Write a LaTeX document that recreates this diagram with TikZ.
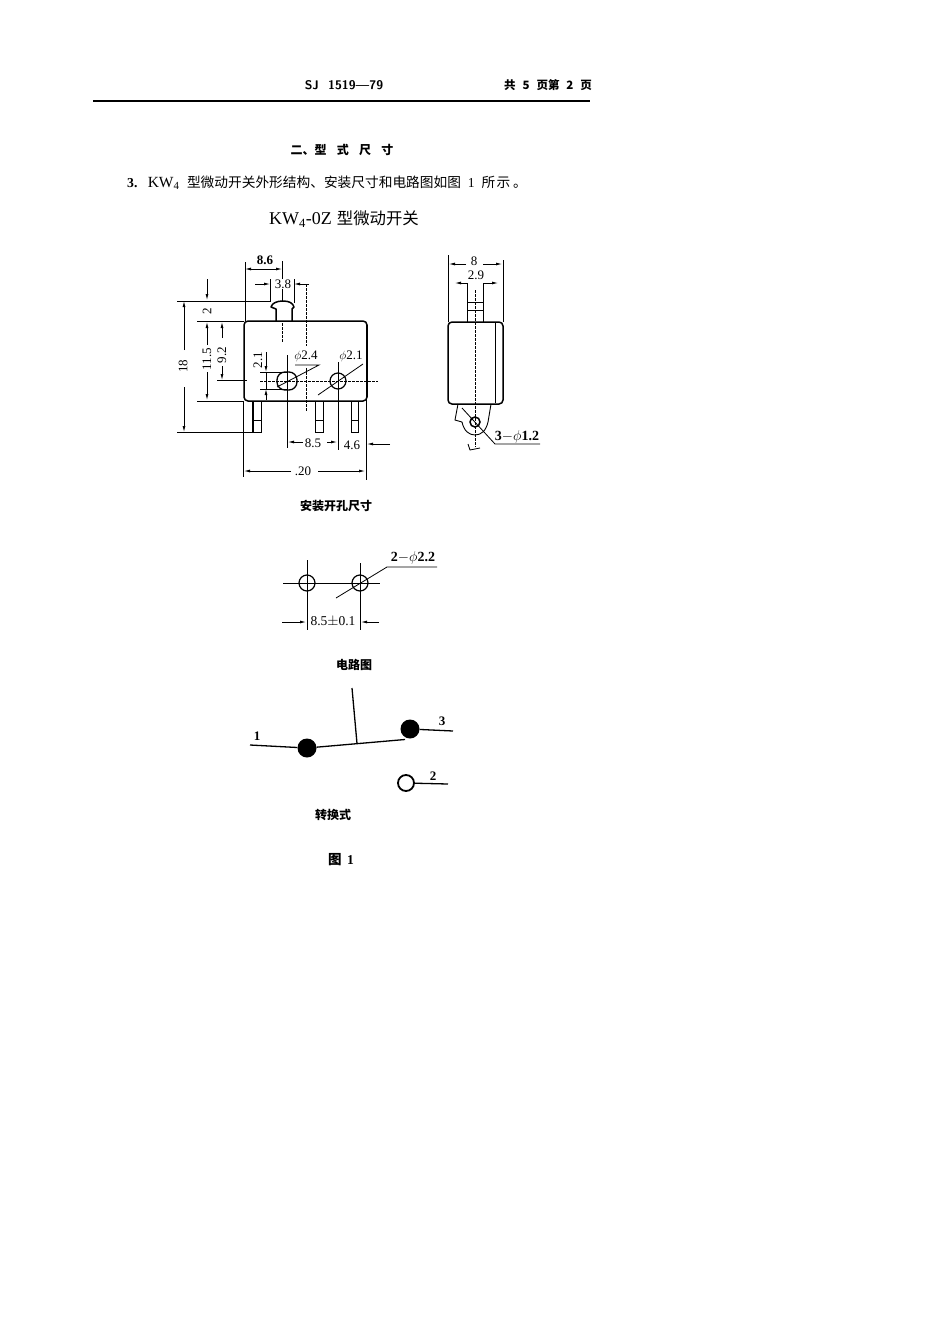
\documentclass[tikz,border=0pt]{standalone}
\usepackage{fontspec}
\setmainfont{Liberation Serif}
\newfontfamily\cjk{Noto Sans CJK SC}
\newfontfamily\latinserif{Liberation Serif}
\usetikzlibrary{arrows.meta}
\tikzset{
  x=1pt,y=-1pt,
  part/.style={draw=black,line width=1.5pt,line join=round},
  thin part/.style={draw=black,line width=0.9pt},
  dimline/.style={draw=black,line width=0.8pt},
  dimarrow/.style={draw=black,line width=0.8pt,-{Latex[length=6pt,width=3pt]}},
  dash center/.style={draw=black,line width=0.7pt,dash pattern=on 3pt off 1pt},
  dim/.style={inner sep=0.5pt,font=\fontsize{13}{14}\selectfont,fill=white},
  dimb/.style={inner sep=0.5pt,font=\fontsize{13}{14}\selectfont\bfseries},
  heading/.style={inner sep=0pt,font=\cjk\fontsize{12}{13}\selectfont\bfseries},
  wire/.style={draw=black,line width=1.3pt},
  dot/.style={circle,fill=black,inner sep=0pt,minimum size=19pt},
  opendot/.style={circle,draw=black,line width=1.8pt,fill=white,inner sep=0pt,minimum size=16pt},
  hole/.style={circle,draw=black,line width=1.2pt,inner sep=0pt,minimum size=16pt},
}
\begin{document}
\begin{tikzpicture}
\useasboundingbox[fill=white] (0,0) rectangle (950,1344);
% header
\node[inner sep=0pt,font=\sffamily\bfseries\fontsize{12.5}{13}\selectfont] (code) at (344,85) {SJ\ \ 1519—79};
\node[inner sep=0pt,font=\cjk\fontsize{11.5}{12}\selectfont\bfseries] (pageno) at (548,85) {共\hspace{0.6em}5\hspace{0.6em}页第\hspace{0.6em}2\hspace{0.6em}页};
\draw[black,line width=2.5pt] (93,101) -- (590,101);
\node[heading] (title) at (342,150) {二、型\hspace{0.85em}式\hspace{0.85em}尺\hspace{0.85em}寸};
\node[anchor=west,inner sep=0pt,font=\cjk\fontsize{13.7}{15}\selectfont] (intro) at (127,183)
  {{\latinserif\bfseries 3.}\hspace{0.75em}{\latinserif\fontsize{15.5}{16}\selectfont KW\textsubscript{4}}\hspace{0.55em}型微动开关外形结构、安装尺寸和电路图如图\hspace{0.5em}{\latinserif 1}\hspace{0.5em}所\hspace{0.1em}示\hspace{0.2em}。};
\node[inner sep=0pt,font=\cjk\fontsize{16.4}{18}\selectfont] (name) at (344,219)
  {{\latinserif\fontsize{18}{19}\selectfont KW\textsubscript{4}-0Z}\hspace{0.3em}型微动开关};

% main view: body
\draw[part,rounded corners=4pt] (244,321) rectangle (367,401);
\draw[part] (276,321) -- (276,309) -- (271,307) .. controls (272,303) and (277,301) .. (283,301) .. controls (289,301) and (293,303) .. (294,307) -- (292,309) -- (292,321);
\foreach \a/\b in {253/261,315/323,351/358}{
  \draw[thin part] (\a,401) -- (\a,432) -- (\b,432) -- (\b,401);
  \draw[thin part] (\a,420) -- (\b,420);
}
\draw[part,line width=1.2pt] (253,401) -- (253,432);
% holes
\draw[draw=black,line width=1.3pt,rounded corners=8pt] (277,372) rectangle (297,390);
\node[hole] (hole21) at (338,381) {};
% centre lines
\draw[dash center] (260,381) -- (378,381);
\draw[dimline] (287,355) -- (287,448);
\draw[dimline] (338,362) -- (338,450);
\draw[dash center] (282,323) -- (282,343);
\draw[dash center] (306,284) -- (306,346);
\draw[dash center] (306,368) -- (306,412);
% extension lines
\draw[dimline] (245,262) -- (245,321);
\draw[dimline] (282,261) -- (282,301);
\draw[dimline] (270,279) -- (270,302);
\draw[dimline] (294,279) -- (294,303);
\draw[dimline] (177,301) -- (271,301);
\draw[dimline] (177,432) -- (253,432);
\draw[dimline] (197,321) -- (244,321);
\draw[dimline] (197,401) -- (244,401);
\draw[dimline] (217,380) -- (247,380);
\draw[dimline] (260,372) -- (287,372);
\draw[dimline] (260,389) -- (287,389);
\draw[dimline] (366,323) -- (366,480);
\draw[dimline] (243,401) -- (243,477);
% dimensions
\draw[dimarrow,{Latex[length=6pt,width=3pt]}-{Latex[length=6pt,width=3pt]}] (245,269) -- (282,269);
\node[dimb] (d86) at (265,260) {8.6};
\draw[dimarrow] (255,284) -- (270,284);
\draw[dimarrow] (309,284) -- (294,284);
\node[dim] (d38) at (283,284) {3.8};
\draw[dimarrow] (184,350) -- (184,301);
\draw[dimarrow] (184,387) -- (184,432);
\node[dim,rotate=90] (d18) at (183,366) {18};
\draw[dimarrow] (207,279) -- (207,300);
\node[dim,rotate=90] (d2) at (207,311) {2};
\draw[dimarrow] (207,345) -- (207,322);
\node[dim,rotate=90] (d115) at (207,359) {11.5};
\draw[dimarrow] (207,372) -- (207,400);
\draw[dimarrow] (222,338) -- (222,322);
\node[dim,rotate=90] (d92) at (222,355) {9.2};
\draw[dimarrow] (222,366) -- (222,380);
\draw[dimarrow] (266,352) -- (266,372);
\draw[dimline] (266,372) -- (266,389);
\draw[dimarrow] (266,400) -- (266,389);
\node[dim,rotate=90] (d21) at (258,360) {2.1};
\node[inner sep=0pt,font=\fontsize{13}{14}\selectfont\itshape] (p24) at (306,356) {$\phi$\upshape 2.4};
\draw[dimline] (295,365) -- (319,365) -- (277,387);
\node[inner sep=0pt,font=\fontsize{13}{14}\selectfont\itshape] (p21) at (351,356) {$\phi$\upshape 2.1};
\draw[dimline] (363,364) -- (318,395);
\draw[dimarrow] (303,442) -- (288,442);
\draw[dimarrow] (327,442) -- (337,442);
\node[dim] (d85) at (313,443) {8.5};
\node[dim] (d46) at (352,445) {4.6};
\draw[dimarrow] (390,444) -- (367,444);
\draw[dimarrow] (291,471) -- (244,471);
\draw[dimarrow] (318,471) -- (365,471);
\node[inner sep=0pt,font=\fontsize{13}{14}\selectfont] (d20) at (303,471) {.20};

% side view
\draw[part,rounded corners=4pt] (448,322) rectangle (503,404);
\draw[thin part] (495,323) -- (495,403);
\draw[thin part] (467,302) -- (483,302);
\draw[thin part] (467,310) -- (483,310);
\draw[thin part] (467,283) -- (467,322);
\draw[thin part] (483,283) -- (483,322);
\draw[dash center] (475,290) -- (475,447);
\draw[dimline] (448,255) -- (448,322);
\draw[dimline] (503,260) -- (503,322);
\draw[dimarrow] (466,264) -- (449,264);
\draw[dimarrow] (483,264) -- (502,264);
\node[dim] (d8) at (474,261) {8};
\draw[dimarrow] (467,283) -- (455,283);
\draw[dimarrow] (483,283) -- (498,283);
\node[dim] (d29) at (476,275) {2.9};
\draw[thin part] (458,404) -- (455,420) -- (462,422) .. controls (464,431) and (469,435) .. (475,435) .. controls (481,435) and (486,431) .. (488,422) -- (491,404);
\node[hole,minimum size=10pt,line width=1.5pt] (hole12) at (475,422) {};
\draw[dimline] (462,408) -- (495,444) -- (540,444);
\node[inner sep=0pt,font=\fontsize{14}{15}\selectfont\bfseries] (d12) at (517,437) {3$-\phi$1.2};
\draw[dimline] (468,444) -- (470,450) -- (480,448);

% mounting section
\node[heading] (mount) at (336,506) {安装开孔尺寸};
\node[hole] (h1) at (307,583) {};
\node[hole] (h2) at (360,583) {};
\draw[dimline] (283,583) -- (380,583);
\draw[dimline] (307,560) -- (307,630);
\draw[dimline] (360,563) -- (360,630);
\draw[dimline] (336,598) -- (387,567) -- (437,567);
\node[inner sep=0pt,font=\fontsize{14}{15}\selectfont\bfseries] (d22) at (413,558) {2$-\phi$2.2};
\draw[dimarrow] (282,622) -- (306,622);
\draw[dimarrow] (379,622) -- (361,622);
\node[inner sep=0.5pt,font=\fontsize{13.5}{14}\selectfont] (d85b) at (333,622) {8.5$\pm$0.1};

% circuit
\node[heading] (circ) at (354,665) {电路图};
\coordinate (n1) at (250,745);
\coordinate (n3) at (453,731);
\coordinate (n2) at (448,784);
\coordinate (top) at (352,688);
\coordinate (joint) at (357,743.5);
\coordinate (leverend) at (405,739.5);
\node[dot] (c1) at (307,748) {};
\node[dot] (c3) at (410,729) {};
\node[opendot] (c2) at (406,783) {};
\draw[wire] (n1) -- (c1);
\draw[wire] (c1) -- (leverend);
\draw[wire] (top) -- (joint);
\draw[wire] (c3) -- (n3);
\draw[wire] (c2) -- (n2);
\node[dimb,inner sep=0pt] (l1) at (257,736) {1};
\node[dimb,inner sep=0pt] (l3) at (442,721) {3};
\node[dimb,inner sep=0pt] (l2) at (433,776) {2};
\node[heading] (type) at (333,815) {转换式};
\node[heading,font=\cjk\fontsize{13.5}{14}\selectfont\bfseries] (fig) at (341,860) {图\hspace{0.4em}{\latinserif\bfseries 1}};
\end{tikzpicture}
\end{document}
